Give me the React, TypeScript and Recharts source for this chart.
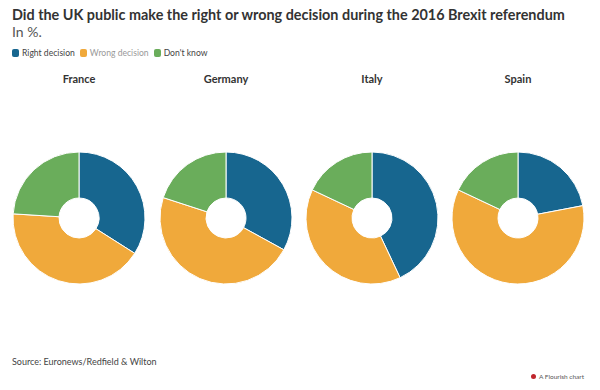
import React from "react";
import { PieChart, Pie, Cell } from "recharts";

const countries = ["France", "Germany", "Italy", "Spain"];
const seriesNames = ["Right decision", "Wrong decision", "Don't know"];
const rightDecision = [34, 33, 43, 22];
const wrongDecision = [42, 47, 39, 60];
const dontKnow = [24, 20, 18, 18];
const colors = ["#17668f", "#f0a93b", "#6aad5b"];

const centersX = [79, 226, 372, 518];
const centerY = 218;
const font = "'Source Sans Pro', Lato, 'Open Sans', sans-serif";

export default function App() {
  const datasets = countries.map((c, i) => [
    { name: seriesNames[0], value: rightDecision[i] },
    { name: seriesNames[1], value: wrongDecision[i] },
    { name: seriesNames[2], value: dontKnow[i] },
  ]);
  return (
    <div
      style={{
        position: "absolute",
        left: 0,
        top: 0,
        width: 600,
        height: 390,
        background: "#fff",
        fontFamily: font,
        overflow: "hidden",
      }}
    >
      <div
        style={{
          position: "absolute",
          left: 12,
          top: 6,
          fontSize: 14.4,
          fontWeight: 700,
          color: "#333",
          whiteSpace: "nowrap",
        }}
      >
        Did the UK public make the right or wrong decision during the 2016 Brexit referendum
      </div>
      <div style={{ position: "absolute", left: 12, top: 23, fontSize: 14, color: "#555" }}>
        In %.
      </div>
      <div
        style={{
          position: "absolute",
          left: 12,
          top: 48,
          fontSize: 8.6,
          display: "flex",
          alignItems: "center",
          color: "#444",
        }}
      >
        {seriesNames.map((n, i) => (
          <span key={n} style={{ display: "flex", alignItems: "center", marginRight: 5 }}>
            <span
              style={{
                display: "inline-block",
                width: 7,
                height: 8,
                borderRadius: 2,
                background: colors[i],
                marginRight: 3,
              }}
            />
            <span style={{ color: i === 1 ? "#999" : "#444" }}>{n}</span>
          </span>
        ))}
      </div>
      {countries.map((c, i) => (
        <div
          key={c}
          style={{
            position: "absolute",
            left: centersX[i] - 60,
            width: 120,
            top: 72,
            textAlign: "center",
            fontSize: 11,
            fontWeight: 700,
            color: "#333",
          }}
        >
          {c}
        </div>
      ))}
      <div style={{ position: "absolute", top: 0, left: 0 }}>
        <PieChart width={600} height={390} margin={{ top: 0, right: 0, bottom: 0, left: 0 }}>
          {datasets.map((d, i) => (
            <Pie
              key={countries[i]}
              data={d}
              dataKey="value"
              nameKey="name"
              cx={centersX[i]}
              cy={centerY}
              innerRadius={20}
              outerRadius={66}
              startAngle={90}
              endAngle={-270}
              stroke="#fff"
              strokeWidth={1}
              isAnimationActive={false}
            >
              {d.map((e, j) => (
                <Cell key={j} fill={colors[j]} />
              ))}
            </Pie>
          ))}
        </PieChart>
      </div>
      <div style={{ position: "absolute", left: 12, top: 356, fontSize: 9, color: "#444" }}>
        Source: Euronews/Redfield &amp; Wilton
      </div>
      <div
        style={{
          position: "absolute",
          left: 531,
          top: 373,
          fontSize: 6.5,
          color: "#555",
          display: "flex",
          alignItems: "center",
        }}
      >
        <span
          style={{
            display: "inline-block",
            width: 5,
            height: 5,
            borderRadius: 3,
            background: "#c0262d",
            marginRight: 3,
          }}
        />
        A Flourish chart
      </div>
    </div>
  );
}
